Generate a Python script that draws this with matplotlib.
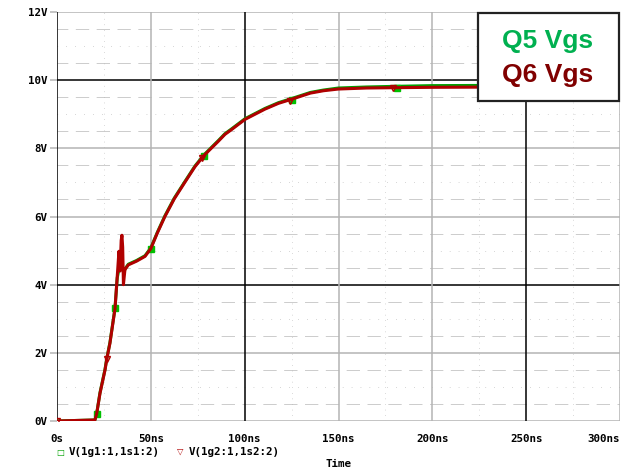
import matplotlib
matplotlib.use("Agg")
import matplotlib.pyplot as plt
from matplotlib.patches import Rectangle
import numpy as np

# ─── Data ────────────────────────────────────────────────────────────────────

t_q6 = [0, 20.2, 21.1, 22.9, 25.6, 26.5, 28.2, 30.9, 32.1, 33.0, 33.3, 33.6,
        34.2, 34.6, 35.0, 35.4, 36.2, 38.0, 42.4, 46.9, 50.0, 53.5, 57.5,
        62.5, 68.2, 73.5, 78.5, 86.0, 89.5, 93.0, 100.2, 110.8, 118, 125,
        135, 142, 150, 165, 181, 200, 250, 300]
v_q6 = [0, 0.03, 0.2, 0.81, 1.5, 1.81, 2.28, 3.29, 4.24, 4.98, 4.7, 4.4,
        5.3, 5.45, 5.1, 4.0, 4.44, 4.58, 4.69, 4.83, 5.06, 5.52, 6.0,
        6.52, 7.01, 7.46, 7.8, 8.21, 8.41, 8.55, 8.85, 9.15, 9.32, 9.44,
        9.62, 9.69, 9.74, 9.77, 9.78, 9.79, 9.8, 9.8]

t_q5 = [0, 20.2, 21.1, 22.9, 25.6, 26.5, 28.2, 30.9, 32.1, 33.0, 34.0,
        35.0, 35.6, 36.2, 38.0, 42.4, 46.9, 50.0, 53.5, 57.5, 62.5, 68.2,
        73.5, 78.5, 86.0, 89.5, 93.0, 100.2, 110.8, 118, 125, 135, 142, 150,
        165, 181, 200, 250, 300]
v_q5 = [0, 0.03, 0.2, 0.83, 1.52, 1.83, 2.3, 3.31, 4.2, 4.45, 4.5,
        4.5, 4.3, 4.46, 4.6, 4.71, 4.85, 5.08, 5.54, 6.02, 6.54, 7.03,
        7.48, 7.82, 8.23, 8.43, 8.57, 8.87, 9.17, 9.34, 9.46, 9.64, 9.71, 9.77,
        9.8, 9.82, 9.84, 9.85, 9.85]

# probe symbols
t_sq = [21.1, 30.9, 50.0, 78.5, 125, 181]
v_sq = [0.2, 3.31, 5.06, 7.77, 9.43, 9.78]
t_tri = [0, 26.5, 77.3, 124.0, 179]
v_tri = [0, 1.81, 7.72, 9.40, 9.76]

x_ticks = [0, 50, 100, 150, 200, 250, 300]
x_labels = ["0s", "50ns", "100ns", "150ns", "200ns", "250ns", "300ns"]
y_ticks = [0, 2, 4, 6, 8, 10, 12]
y_labels = ["0V", "2V", "4V", "6V", "8V", "10V", "12V"]

# ─── Styles ──────────────────────────────────────────────────────────────────

GREEN = "#00a000"
RED = "#b00000"
GRAY = "#b4b4b4"
MONO = {"family": "DejaVu Sans Mono", "weight": "bold", "size": 7.8}

W, H = 621, 473
fig = plt.figure(figsize=(W / 100, H / 100), dpi=100)
ax = fig.add_axes([57 / W, 1 - 421 / H, 563 / W, 409 / H])
ax.set_xlim(0, 300)
ax.set_ylim(0, 12)

# minor dotted grid (short dotted dashes, like the probe window)
for v in np.arange(0.5, 12, 0.5):
    if v % 2 == 0:
        continue
    if v % 1 == 0:
        ax.axhline(v, color="#b0b0b0", lw=0.6, ls=(0, (0.7, 10)), zorder=0)
    else:
        ax.axhline(v, color="#c4c4c4", lw=0.6, ls=(3, (16, 9)), zorder=0)
for tt in np.arange(25, 300, 50):
    ax.axvline(tt, color="#b8b8b8", lw=0.6, ls=(0, (0.7, 6)), zorder=0)

# major grid: gray, with a few black lines like the original
for v in y_ticks:
    ax.axhline(v, color="black" if v in (4, 10) else GRAY, lw=1.1, zorder=0.5)
for tt in x_ticks:
    ax.axvline(tt, color="black" if tt in (0, 100, 250) else GRAY, lw=1.1,
               zorder=0.5)

for s in ax.spines.values():
    s.set_visible(False)

# traces
ax.plot(t_q5, v_q5, color=GREEN, lw=2.2, zorder=2, solid_joinstyle="round")
ax.plot(t_sq, v_sq, ls="none", marker="s", ms=4.8, mfc="#00c000",
        mec="#00c000", zorder=2.5)
ax.plot(t_q6, v_q6, color=RED, lw=2.2, zorder=3, solid_joinstyle="round")
ax.plot(t_tri, v_tri, ls="none", marker="v", ms=4, mfc="none", mec=RED,
        mew=1.0, zorder=3.5)

ax.set_xticks(x_ticks)
ax.set_xticklabels(x_labels, fontdict=MONO)
ax.set_yticks(y_ticks)
ax.set_yticklabels(y_labels, fontdict=MONO)
ax.tick_params(axis="x", length=0, pad=9)
ax.tick_params(axis="y", length=5, color=GRAY, width=1.1, pad=2)
ax.get_xticklabels()[-1].set_horizontalalignment("right")

# probe legend under the plot
fig.text(60 / W, 1 - 452 / H, "□", color=GREEN, fontsize=6, ha="center",
         va="center", family="DejaVu Sans")
fig.text(69 / W, 1 - 452 / H, "V(1g1:1,1s1:2)", ha="left", va="center",
         fontdict=MONO)
fig.text(180 / W, 1 - 451 / H, "▽", color=RED, fontsize=6, ha="center",
         va="center", family="DejaVu Sans")
fig.text(189 / W, 1 - 452 / H, "V(1g2:1,1s2:2)", ha="left", va="center",
         fontdict=MONO)
fig.text(338 / W, 1 - 464 / H, "Time", ha="center", va="center",
         fontdict=MONO)

# annotation box
fig.patches.append(Rectangle((478 / W, 1 - 101 / H), 141 / W, 88 / H,
                             transform=fig.transFigure, facecolor="white",
                             edgecolor="#222222", lw=1.6, zorder=5))
fig.text(548 / W, 1 - 41 / H, "Q5 Vgs", color="#00b050", fontsize=19,
         weight="bold", family="Liberation Sans", ha="center", va="center",
         zorder=6)
fig.text(548 / W, 1 - 75 / H, "Q6 Vgs", color="#800000", fontsize=19,
         weight="bold", family="Liberation Sans", ha="center", va="center",
         zorder=6)

fig.savefig("out.png", dpi=100)
